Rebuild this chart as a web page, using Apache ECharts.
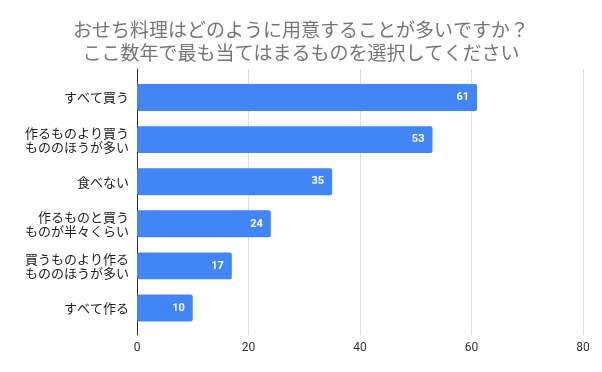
<!DOCTYPE html>
<html><head><meta charset="utf-8">
<script src="https://cdn.jsdelivr.net/npm/echarts@6/dist/echarts.min.js"></script>
<style>html,body{margin:0;padding:0;background:#fff}#c{width:602px;height:372px}</style>
</head><body><div id="c"></div>
<script>
const titleLines = ["おせち料理はどのように用意することが多いですか？", "ここ数年で最も当てはまるものを選択してください"];
const categories = ["すべて買う", "作るものより買う\nもののほうが多い", "食べない", "作るものと買う\nものが半々くらい", "買うものより作る\nもののほうが多い", "すべて作る"];
const values = [61, 53, 35, 24, 17, 10];
const xTicks = [0, 20, 40, 60, 80];

const chart = echarts.init(document.getElementById('c'), null, {renderer: 'canvas'});
chart.setOption({
  animation: false,
  title: {
    text: titleLines.join('\n'), left: 'center', top: 13,
    textStyle: {fontFamily: 'Noto Sans CJK JP', fontSize: 19, fontWeight: 'normal', color: '#757575', lineHeight: 23}
  },
  grid: [
    {left: 137, right: 19, top: 69, bottom: 37},
    {left: 137, right: 19, top: 76.5, bottom: 43}
  ],
  xAxis: [{
    gridIndex: 0, type: 'value', min: xTicks[0], max: xTicks[xTicks.length - 1], interval: 20,
    axisLine: {show: false}, axisTick: {show: false},
    splitLine: {lineStyle: {color: '#dddddd'}},
    axisLabel: {color: '#333', fontSize: 12, fontFamily: 'Roboto', margin: 7}
  }, {
    gridIndex: 1, type: 'value', min: xTicks[0], max: xTicks[xTicks.length - 1], interval: 20,
    show: false
  }],
  yAxis: [{
    gridIndex: 0, type: 'category', data: categories, inverse: true,
    axisLine: {lineStyle: {color: '#333', width: 1}}, axisTick: {show: false},
    axisLabel: {show: false}
  }, {
    gridIndex: 1, type: 'category', data: categories, inverse: true,
    axisLine: {show: false}, axisTick: {show: false},
    axisLabel: {color: '#222', fontSize: 13, fontFamily: 'Noto Sans CJK JP', lineHeight: 14, margin: 8}
  }],
  series: [{
    type: 'bar', xAxisIndex: 1, yAxisIndex: 1, data: values, barCategoryGap: '36%',
    itemStyle: {color: '#4285f4', borderRadius: 2},
    label: {show: true, position: 'insideRight', color: '#fff', fontSize: 11, fontWeight: 'bold', fontFamily: 'Roboto', distance: 8}
  }]
});
</script></body></html>
